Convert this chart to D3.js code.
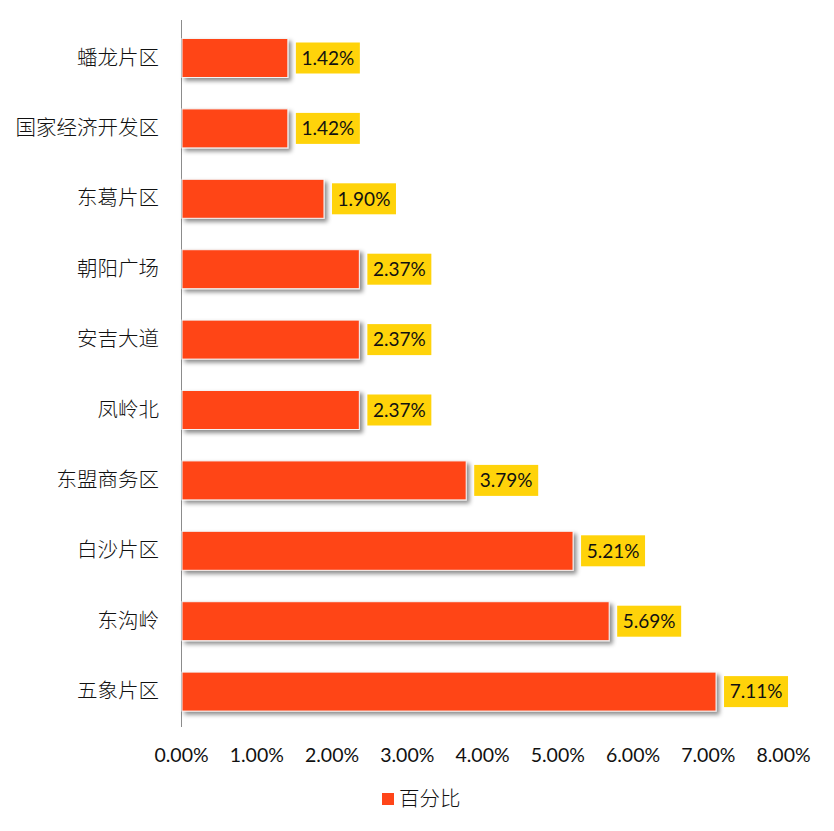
<!DOCTYPE html>
<html>
<head>
<meta charset="utf-8">
<script src="https://cdn.jsdelivr.net/npm/d3@7"></script>
<style>
  body { margin: 0; background: #fff; }
  #chart { width: 834px; height: 831px; }
</style>
</head>
<body>
<div id="chart"></div>
<script>
// data, top to bottom
let categories = ["蟠龙片区", "国家经济开发区", "东葛片区", "朝阳广场", "安吉大道", "凤岭北", "东盟商务区", "白沙片区", "东沟岭", "五象片区"];
let values = [0.0142, 0.0142, 0.0190, 0.0237, 0.0237, 0.0237, 0.0379, 0.0521, 0.0569, 0.0711];
let tickValues = [0, 0.01, 0.02, 0.03, 0.04, 0.05, 0.06, 0.07, 0.08];
let seriesName = "百分比";

let width = 834, height = 831;
let barColor = "#FF4519";
let labelColor = "#FFD30A";
let cjk = "'Noto Sans CJK SC', sans-serif";
let latin = "Lato, 'Noto Sans', sans-serif";

let svg = d3.select("#chart").append("svg")
    .attr("width", width)
    .attr("height", height);

// soft shadow under the bars
let defs = svg.append("defs");
let filter = defs.append("filter")
    .attr("id", "shadow")
    .attr("x", "-5%").attr("y", "-20%")
    .attr("width", "115%").attr("height", "160%");
filter.append("feDropShadow")
    .attr("dx", 3).attr("dy", 3)
    .attr("stdDeviation", 2)
    .attr("flood-color", "#000")
    .attr("flood-opacity", 0.45);

// scales
let x = d3.scaleLinear()
    .domain([0, 0.08])
    .range([181, 783]);

let y = d3.scaleBand()
    .domain(categories)
    .range([22.8, 726.8])
    .paddingInner(0.446)
    .paddingOuter(0.223);

// category axis line
svg.append("line")
    .attr("x1", x(0) + 0.5).attr("x2", x(0) + 0.5)
    .attr("y1", 20).attr("y2", 727)
    .attr("stroke", "#8c8c8c")
    .attr("stroke-width", 1);

// bars
svg.append("g")
    .selectAll("rect")
    .data(values)
    .enter()
    .append("rect")
    .attr("x", x(0) + 1)
    .attr("y", (d, i) => y(categories[i]))
    .attr("width", d => x(d) - x(0) - 1)
    .attr("height", y.bandwidth())
    .attr("fill", barColor)
    .attr("stroke", "#f4f4f4")
    .attr("stroke-width", 1)
    .attr("filter", "url(#shadow)");

// value labels in yellow boxes
let labels = svg.append("g")
    .selectAll("g")
    .data(values)
    .enter()
    .append("g")
    .attr("transform", (d, i) => "translate(" + (x(d) + 8) + "," + (y(categories[i]) + y.bandwidth() / 2) + ")");

labels.append("rect")
    .attr("x", 0)
    .attr("y", -15.5)
    .attr("width", 64)
    .attr("height", 31)
    .attr("fill", labelColor);

labels.append("text")
    .attr("x", 32)
    .attr("y", 0)
    .attr("dy", "0.36em")
    .attr("text-anchor", "middle")
    .attr("font-family", latin)
    .attr("font-size", "19px")
    .attr("fill", "#111")
    .text(d => d3.format(".2%")(d));

// category labels
let yAxis = d3.axisLeft(y).tickSize(0).tickPadding(22);
let yg = svg.append("g")
    .attr("transform", "translate(" + x(0) + ",0)")
    .call(yAxis);
yg.select(".domain").remove();
yg.selectAll("text")
    .attr("font-family", cjk)
    .attr("font-size", "20.5px")
    .attr("font-weight", 300)
    .attr("fill", "#111");

// value axis tick labels
let xAxis = d3.axisBottom(x)
    .tickValues(tickValues)
    .tickFormat(d3.format(".2%"))
    .tickSize(0)
    .tickPadding(0);
let xg = svg.append("g")
    .attr("transform", "translate(0,748)")
    .call(xAxis);
xg.select(".domain").remove();
xg.selectAll("text")
    .attr("font-family", latin)
    .attr("font-size", "19.5px")
    .attr("fill", "#111");

// legend
let legend = svg.append("g")
    .attr("transform", "translate(382,799)");
legend.append("rect")
    .attr("x", 0).attr("y", -6)
    .attr("width", 12).attr("height", 12)
    .attr("fill", barColor);
legend.append("text")
    .attr("x", 17)
    .attr("y", 0)
    .attr("dy", "0.36em")
    .attr("font-family", cjk)
    .attr("font-size", "20.5px")
    .attr("font-weight", 300)
    .attr("fill", "#111")
    .text(seriesName);
</script>
</body>
</html>
